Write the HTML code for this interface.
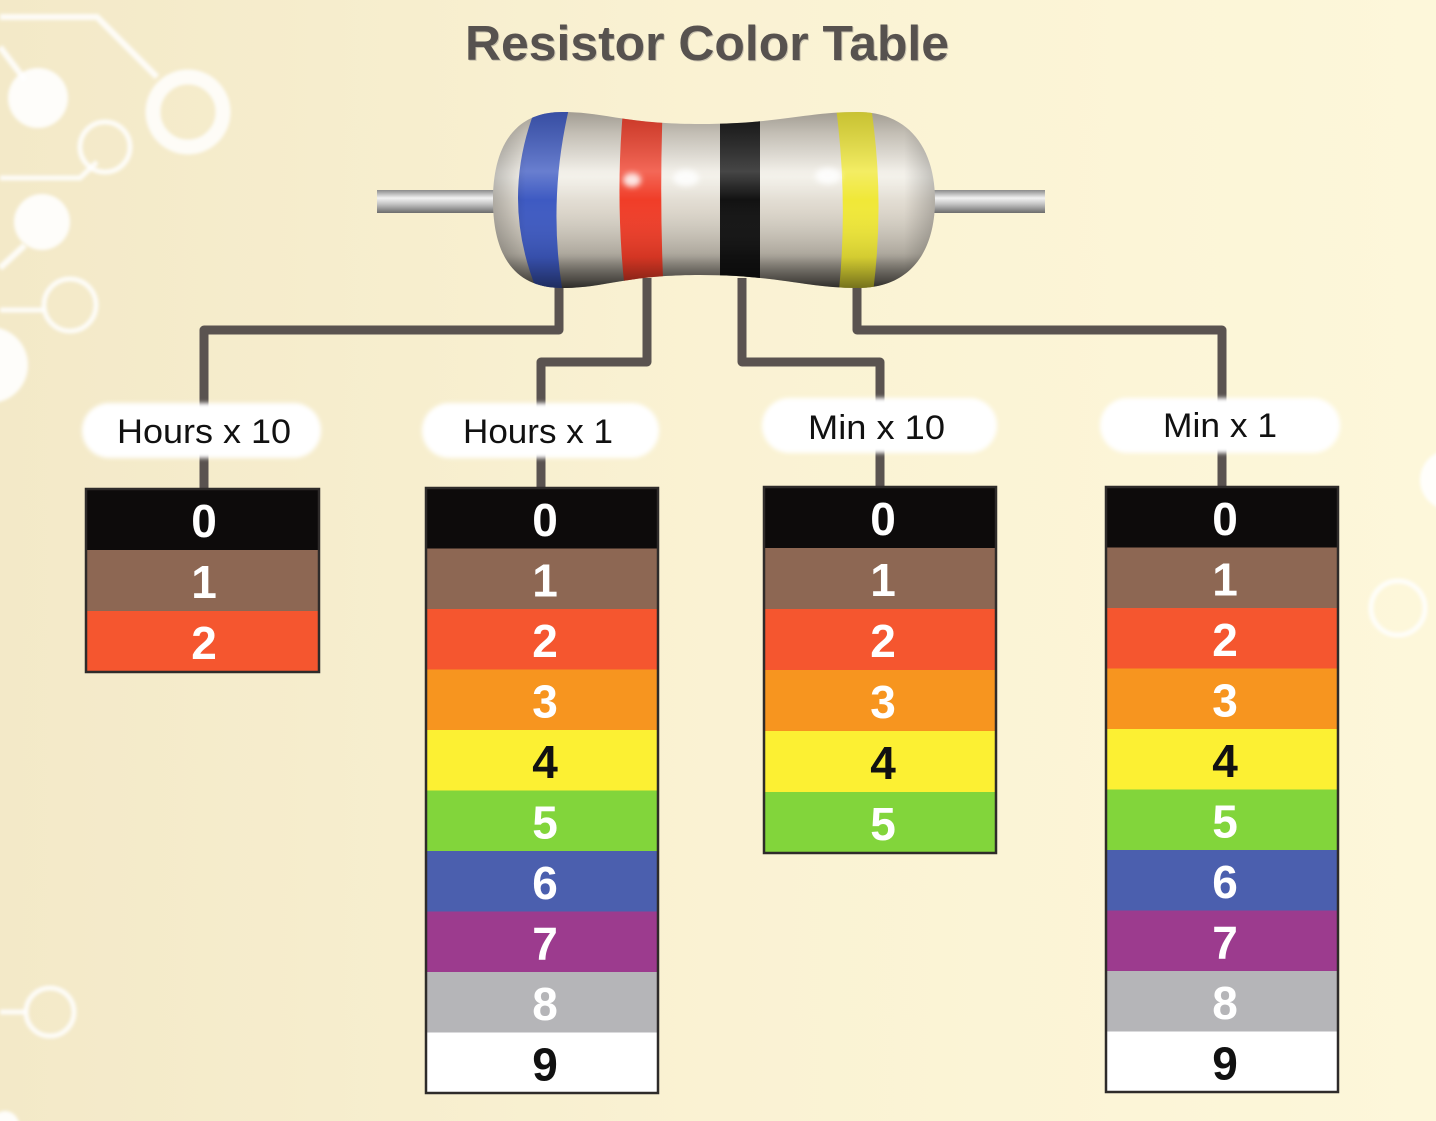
<!DOCTYPE html>
<html>
<head>
<meta charset="utf-8">
<style>
  html, body { margin: 0; padding: 0; }
  body { width: 1436px; height: 1121px; overflow: hidden; background: #f9f1d2; }
  svg { display: block; }
  .lbl { font-family: "Liberation Sans", Arial, sans-serif; font-size: 34px; fill: #111; }
  .dg { font-family: "Liberation Sans", Arial, sans-serif; font-size: 46px; font-weight: bold; text-anchor: middle; }
  .w { fill: #ffffff; }
  .k { fill: #111111; }
</style>
</head>
<body>
<svg width="1436" height="1121" viewBox="0 0 1436 1121" xmlns="http://www.w3.org/2000/svg">
  <defs>
    <linearGradient id="bg" x1="0" y1="0" x2="1" y2="0">
      <stop offset="0" stop-color="#f3e9c8"/>
      <stop offset="0.5" stop-color="#faf2d3"/>
      <stop offset="1" stop-color="#fdf7da"/>
    </linearGradient>
    <filter id="soft" x="-20%" y="-20%" width="140%" height="140%">
      <feGaussianBlur stdDeviation="1.5"/>
    </filter>
    <filter id="pillblur" x="-10%" y="-30%" width="120%" height="160%">
      <feGaussianBlur stdDeviation="2"/>
    </filter>
    <filter id="hl" x="-50%" y="-50%" width="200%" height="200%">
      <feGaussianBlur stdDeviation="3"/>
    </filter>
    <linearGradient id="body" x1="0" y1="0" x2="0" y2="1">
      <stop offset="0" stop-color="#b9b2a6"/>
      <stop offset="0.15" stop-color="#d9d3c7"/>
      <stop offset="0.38" stop-color="#f1eee6"/>
      <stop offset="0.55" stop-color="#ddd7cc"/>
      <stop offset="0.78" stop-color="#c2bcb0"/>
      <stop offset="0.92" stop-color="#837e75"/>
      <stop offset="1" stop-color="#3f3d3a"/>
    </linearGradient>
    <linearGradient id="shade" x1="0" y1="0" x2="0" y2="1">
      <stop offset="0" stop-color="#000" stop-opacity="0.18"/>
      <stop offset="0.35" stop-color="#fff" stop-opacity="0.22"/>
      <stop offset="0.5" stop-color="#fff" stop-opacity="0"/>
      <stop offset="0.8" stop-color="#000" stop-opacity="0.12"/>
      <stop offset="1" stop-color="#000" stop-opacity="0.6"/>
    </linearGradient>
    <linearGradient id="sideshade" x1="0" y1="0" x2="1" y2="0">
      <stop offset="0" stop-color="#000" stop-opacity="0.25"/>
      <stop offset="0.08" stop-color="#000" stop-opacity="0"/>
      <stop offset="0.92" stop-color="#000" stop-opacity="0"/>
      <stop offset="1" stop-color="#000" stop-opacity="0.25"/>
    </linearGradient>
    <linearGradient id="lead" x1="0" y1="0" x2="0" y2="1">
      <stop offset="0" stop-color="#8a8a8a"/>
      <stop offset="0.35" stop-color="#f2f2f2"/>
      <stop offset="0.6" stop-color="#c6c6c6"/>
      <stop offset="1" stop-color="#6c6c6c"/>
    </linearGradient>
    <clipPath id="bodyclip">
      <path d="M 493 200 C 493 150, 512 112, 562 112 C 605 112, 625 124, 700 124 C 778 124, 805 112, 858 112 C 910 112, 935 150, 935 200 C 935 252, 910 288, 858 288 C 805 288, 778 275, 700 275 C 625 275, 605 288, 562 288 C 512 288, 493 252, 493 200 Z"/>
    </clipPath>
  </defs>

  <!-- background -->
  <rect x="0" y="0" width="1436" height="1121" fill="url(#bg)"/>

  <!-- circuit decorations -->
  <g fill="none" stroke="#ffffff" stroke-opacity="0.85" filter="url(#soft)">
    <polyline points="0,17 97,17 157,77" stroke-width="6"/>
    <circle cx="188" cy="112" r="35" stroke-width="15"/>
    <line x1="0" y1="47" x2="25" y2="80" stroke-width="6"/>
    <circle cx="105" cy="147" r="25" stroke-width="5"/>
    <polyline points="0,178 80,178 97,162" stroke-width="5"/>
    <line x1="25" y1="245" x2="0" y2="268" stroke-width="6"/>
    <circle cx="70" cy="305" r="26" stroke-width="5"/>
    <line x1="0" y1="310" x2="44" y2="310" stroke-width="5"/>
    <circle cx="50" cy="1012" r="24" stroke-width="5"/>
    <line x1="0" y1="1012" x2="26" y2="1012" stroke-width="5"/>
    <circle cx="1398" cy="608" r="27" stroke-width="5"/>
  </g>
  <g fill="#ffffff" fill-opacity="0.9" filter="url(#soft)">
    <circle cx="38" cy="98" r="30"/>
    <circle cx="42" cy="222" r="28"/>
    <circle cx="-10" cy="365" r="38"/>
    <circle cx="1450" cy="480" r="30"/>
    <circle cx="5" cy="1125" r="14"/>
  </g>

  <!-- title -->
  <text x="466" y="61" textLength="484" lengthAdjust="spacingAndGlyphs"
        font-family="'Liberation Sans', Arial, sans-serif" font-size="49" font-weight="bold"
        fill="#9a948c" opacity="0.5">Resistor Color Table</text>
  <text x="465" y="60" textLength="484" lengthAdjust="spacingAndGlyphs"
        font-family="'Liberation Sans', Arial, sans-serif" font-size="49" font-weight="bold"
        fill="#57524f">Resistor Color Table</text>

  <!-- connectors -->
  <g fill="none" stroke="#5a5350" stroke-width="9" stroke-linejoin="round">
    <path d="M 559 280 V 330 H 204 V 490"/>
    <path d="M 647 278 V 362 H 541 V 489"/>
    <path d="M 742 278 V 362 H 880 V 488"/>
    <path d="M 857 282 V 330 H 1222 V 488"/>
  </g>

  <!-- resistor leads -->
  <rect x="377" y="190" width="125" height="23" fill="url(#lead)"/>
  <rect x="928" y="190" width="117" height="23" fill="url(#lead)"/>

  <!-- resistor body -->
  <g clip-path="url(#bodyclip)">
    <rect x="490" y="105" width="450" height="190" fill="url(#body)"/>
    <!-- bands -->
    <path d="M 539 100 Q 496 200 541 300 L 564 300 Q 546 200 571 100 Z" fill="#3e5ac2"/>
    <path d="M 624 100 Q 614 200 626 300 L 664 300 Q 659 200 663 100 Z" fill="#f03d28"/>
    <path d="M 720 100 L 720 300 L 760 300 L 760 100 Z" fill="#121212"/>
    <path d="M 835 100 Q 849 200 838 300 L 872 300 Q 886 200 870 100 Z" fill="#f0e838"/>
    <rect x="490" y="105" width="450" height="190" fill="url(#shade)"/>
    <rect x="490" y="105" width="450" height="190" fill="url(#sideshade)"/>
    <g fill="#ffffff" filter="url(#hl)" opacity="0.85">
      <ellipse cx="632" cy="180" rx="9" ry="7"/>
      <ellipse cx="686" cy="178" rx="13" ry="8"/>
      <ellipse cx="828" cy="176" rx="13" ry="8"/>
    </g>
  </g>

  <!-- label pills -->
  <g fill="#ffffff" filter="url(#pillblur)">
    <rect x="82" y="403" width="239" height="55" rx="27.5"/>
    <rect x="422" y="403" width="237" height="55" rx="27.5"/>
    <rect x="762" y="398" width="235" height="55" rx="27.5"/>
    <rect x="1100" y="398" width="240" height="55" rx="27.5"/>
  </g>
  <text class="lbl" x="117" y="443" textLength="174" lengthAdjust="spacingAndGlyphs">Hours x 10</text>
  <text class="lbl" x="463" y="443" textLength="150" lengthAdjust="spacingAndGlyphs">Hours x 1</text>
  <text class="lbl" x="808" y="439" textLength="137" lengthAdjust="spacingAndGlyphs">Min x 10</text>
  <text class="lbl" x="1163" y="437" textLength="114" lengthAdjust="spacingAndGlyphs">Min x 1</text>

  <!-- Column 1: Hours x 10 -->
  <g transform="translate(86,489)">
    <rect x="0" y="0" width="233" height="61" fill="#0d0b0b"/>
    <rect x="0" y="61" width="233" height="61" fill="#8d6753"/>
    <rect x="0" y="122" width="233" height="61" fill="#f5562f"/>
    <rect x="0" y="0" width="233" height="183" fill="none" stroke="#2e2b2a" stroke-width="2.5"/>
    <text class="dg w" x="118" y="48">0</text>
    <text class="dg w" x="118" y="109">1</text>
    <text class="dg w" x="118" y="170">2</text>
  </g>

  <!-- Column 2: Hours x 1 -->
  <g transform="translate(426,488)">
    <rect x="0" y="0" width="232" height="60.5" fill="#0d0b0b"/>
    <rect x="0" y="60.5" width="232" height="60.5" fill="#8d6753"/>
    <rect x="0" y="121" width="232" height="60.5" fill="#f5562f"/>
    <rect x="0" y="181.5" width="232" height="60.5" fill="#f7951f"/>
    <rect x="0" y="242" width="232" height="60.5" fill="#fcf033"/>
    <rect x="0" y="302.5" width="232" height="60.5" fill="#82d53b"/>
    <rect x="0" y="363" width="232" height="60.5" fill="#4b5fae"/>
    <rect x="0" y="423.5" width="232" height="60.5" fill="#9c3b8e"/>
    <rect x="0" y="484" width="232" height="60.5" fill="#b5b5b8"/>
    <rect x="0" y="544.5" width="232" height="60.5" fill="#ffffff"/>
    <rect x="0" y="0" width="232" height="605" fill="none" stroke="#2e2b2a" stroke-width="2.5"/>
    <text class="dg w" x="119" y="48">0</text>
    <text class="dg w" x="119" y="108.5">1</text>
    <text class="dg w" x="119" y="169">2</text>
    <text class="dg w" x="119" y="229.5">3</text>
    <text class="dg k" x="119" y="290">4</text>
    <text class="dg w" x="119" y="350.5">5</text>
    <text class="dg w" x="119" y="411">6</text>
    <text class="dg w" x="119" y="471.5">7</text>
    <text class="dg w" x="119" y="532">8</text>
    <text class="dg k" x="119" y="592.5">9</text>
  </g>

  <!-- Column 3: Min x 10 -->
  <g transform="translate(764,487)">
    <rect x="0" y="0" width="232" height="61" fill="#0d0b0b"/>
    <rect x="0" y="61" width="232" height="61" fill="#8d6753"/>
    <rect x="0" y="122" width="232" height="61" fill="#f5562f"/>
    <rect x="0" y="183" width="232" height="61" fill="#f7951f"/>
    <rect x="0" y="244" width="232" height="61" fill="#fcf033"/>
    <rect x="0" y="305" width="232" height="61" fill="#82d53b"/>
    <rect x="0" y="0" width="232" height="366" fill="none" stroke="#2e2b2a" stroke-width="2.5"/>
    <text class="dg w" x="119" y="48">0</text>
    <text class="dg w" x="119" y="109">1</text>
    <text class="dg w" x="119" y="170">2</text>
    <text class="dg w" x="119" y="231">3</text>
    <text class="dg k" x="119" y="292">4</text>
    <text class="dg w" x="119" y="353">5</text>
  </g>

  <!-- Column 4: Min x 1 -->
  <g transform="translate(1106,487)">
    <rect x="0" y="0" width="232" height="60.5" fill="#0d0b0b"/>
    <rect x="0" y="60.5" width="232" height="60.5" fill="#8d6753"/>
    <rect x="0" y="121" width="232" height="60.5" fill="#f5562f"/>
    <rect x="0" y="181.5" width="232" height="60.5" fill="#f7951f"/>
    <rect x="0" y="242" width="232" height="60.5" fill="#fcf033"/>
    <rect x="0" y="302.5" width="232" height="60.5" fill="#82d53b"/>
    <rect x="0" y="363" width="232" height="60.5" fill="#4b5fae"/>
    <rect x="0" y="423.5" width="232" height="60.5" fill="#9c3b8e"/>
    <rect x="0" y="484" width="232" height="60.5" fill="#b5b5b8"/>
    <rect x="0" y="544.5" width="232" height="60.5" fill="#ffffff"/>
    <rect x="0" y="0" width="232" height="605" fill="none" stroke="#2e2b2a" stroke-width="2.5"/>
    <text class="dg w" x="119" y="48">0</text>
    <text class="dg w" x="119" y="108.5">1</text>
    <text class="dg w" x="119" y="169">2</text>
    <text class="dg w" x="119" y="229.5">3</text>
    <text class="dg k" x="119" y="290">4</text>
    <text class="dg w" x="119" y="350.5">5</text>
    <text class="dg w" x="119" y="411">6</text>
    <text class="dg w" x="119" y="471.5">7</text>
    <text class="dg w" x="119" y="532">8</text>
    <text class="dg k" x="119" y="592.5">9</text>
  </g>
</svg>
</body>
</html>
